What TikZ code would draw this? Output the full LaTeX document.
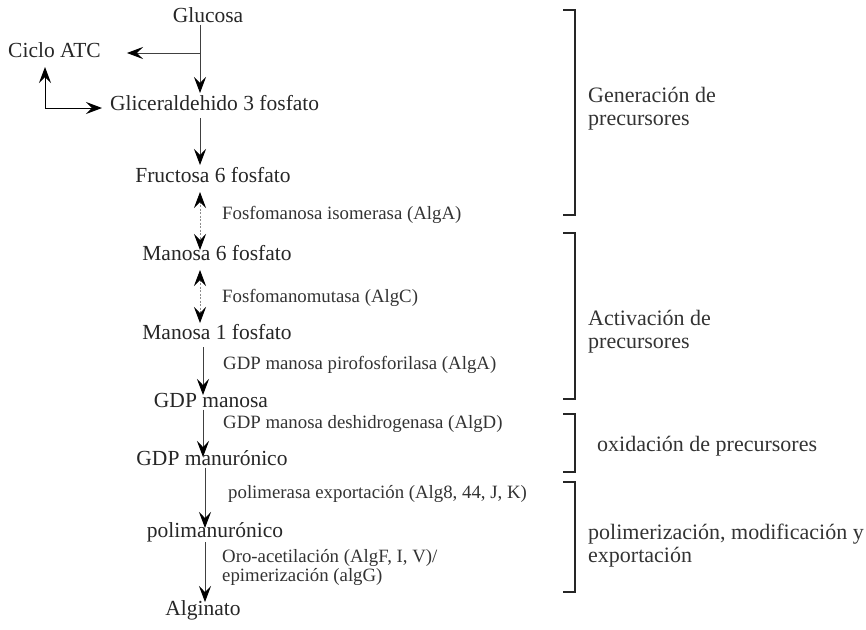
\documentclass[tikz,border=0pt]{standalone}
\usepackage{fontspec}
\setmainfont{Liberation Serif}
\usetikzlibrary{arrows.meta}
\begin{document}
\begin{tikzpicture}[x=1pt,y=-1pt,
  mainlbl/.style={inner sep=0pt, text height=0.7em, text depth=0.2em, font=\fontsize{21.5}{25}\selectfont, text=black!85},
  enz/.style={inner sep=0pt, anchor=west, align=left, font=\fontsize{18.8}{19}\selectfont, text=black!80},
  side/.style={inner sep=0pt, anchor=west, align=left, font=\fontsize{22}{23}\selectfont, text=black!80},
  arr/.style={line width=0.9pt, draw=black!75, -{Stealth[length=16pt,width=12pt,inset=6pt,color=black]}},
  darr/.style={line width=0.8pt, draw=black!45, dash pattern=on 2pt off 1.5pt,
     {Stealth[length=16pt,width=12pt,inset=6pt,color=black]}-{Stealth[length=16pt,width=12pt,inset=6pt,color=black]}},
  carr/.style={line width=1pt, draw=black,
     {Stealth[length=16pt,width=12pt,inset=6pt,color=black]}-{Stealth[length=16pt,width=12pt,inset=6pt,color=black]}},
  brk/.style={line width=1.1pt, draw=black!85}
]
\useasboundingbox (0,0) rectangle (866,629);

% column x positions
\coordinate (xa) at (200,0);
\coordinate (xb) at (203,0);
\coordinate (xc) at (205,0);
\coordinate (xl) at (45,0);
\coordinate (br) at (200,53);

% main nodes
\node[mainlbl] (glc) at (208,20) {Glucosa};
\node[mainlbl] (ciclo) at (54.5,55) {Ciclo ATC};
\node[mainlbl, anchor=west] (gli) at (110,108) {Gliceraldehido 3 fosfato};
\node[mainlbl] (fru) at (213,180) {Fructosa 6 fosfato};
\node[mainlbl] (m6) at (217,258) {Manosa 6 fosfato};
\node[mainlbl] (m1) at (217,337) {Manosa 1 fosfato};
\node[mainlbl] (gdpm) at (211,405) {GDP manosa};
\node[mainlbl] (gdpu) at (212,463) {GDP manurónico};
\node[mainlbl] (poli) at (215,535) {polimanurónico};
\node[mainlbl] (alg) at (203,613) {Alginato};

% enzyme labels
\node[enz] (e1) at (222,215) {Fosfomanosa isomerasa (AlgA)};
\node[enz] (e2) at (222,298) {Fosfomanomutasa (AlgC)};
\node[enz] (e3) at (223,365) {GDP manosa pirofosforilasa (AlgA)};
\node[enz] (e4) at (223,424) {GDP manosa deshidrogenasa (AlgD)};
\node[enz] (e5) at (228,494) {polimerasa exportación (Alg8, 44, J, K)};
\node[enz] (e6) at (222,567) {Oro-acetilación (AlgF, I, V)/\\epimerización (algG)};

% connectors
\draw[arr, shorten >=10.3pt] (glc.south -| xa) -- (gli.north -| xa);
\draw[arr, shorten >=26pt] (br) -- (ciclo.east |- br);
\draw[carr, shorten <=7.3pt, shorten >=8pt] (ciclo.south -| xl) |- (gli.west);
\draw[arr, shorten <=5.3pt, shorten >=10.3pt] (gli.south -| xa) -- (fru.north -| xa);
\draw[darr, shorten <=7.3pt, shorten >=3.3pt] (fru.south -| xa) -- (m6.north -| xa);
\draw[darr, shorten <=7.3pt, shorten >=9.3pt] (m6.south -| xa) -- (m1.north -| xa);
\draw[arr, shorten <=5.3pt, shorten >=5.3pt] (m1.south -| xb) -- (gdpm.north -| xb);
\draw[arr, shorten >=1.3pt] (gdpm.south -| xb) -- (gdpu.north -| xb);
\draw[arr, shorten >=2.3pt] (gdpu.south -| xc) -- (poli.north -| xc);
\draw[arr, shorten <=2.3pt, shorten >=6.3pt] (poli.south -| xc) -- (alg.north -| xc);

% brackets
\draw[brk] (563,10) -- (575,10) -- (575,215) -- (563,215);
\draw[brk] (563,233) -- (575,233) -- (575,399) -- (563,399);
\draw[brk] (563,414) -- (575,414) -- (575,472) -- (563,472);
\draw[brk] (563,482) -- (575,482) -- (575,592) -- (563,592);

% side labels
\node[side] (s1) at (588,108.5) {Generación de\\precursores};
\node[side] (s2) at (588,332) {Activación de\\precursores};
\node[side] (s3) at (597,446) {oxidación de precursores};
\node[side] (s4) at (588,546) {polimerización, modificación y\\exportación};
\end{tikzpicture}
\end{document}
